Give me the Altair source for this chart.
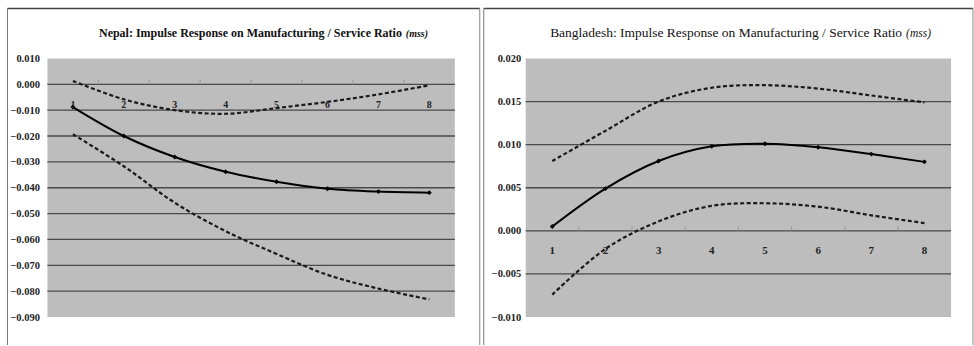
import altair as alt
import pandas as pd

periods = [1, 2, 3, 4, 5, 6, 7, 8]

nepal_response = [-0.0088, -0.0200, -0.0281, -0.0338, -0.0377, -0.0404, -0.0415, -0.0419]
nepal_upper = [0.0013, -0.0058, -0.0100, -0.0114, -0.0092, -0.0068, -0.0039, -0.0004]
nepal_lower = [-0.0193, -0.0317, -0.0458, -0.0568, -0.0656, -0.0737, -0.0790, -0.0832]

bd_response = [0.0005, 0.0049, 0.0081, 0.0098, 0.0101, 0.0097, 0.0089, 0.0080]
bd_upper = [0.0081, 0.0116, 0.0150, 0.0166, 0.0169, 0.0165, 0.0157, 0.0149]
bd_lower = [-0.0074, -0.0021, 0.0011, 0.0029, 0.0032, 0.0028, 0.0018, 0.0009]

nepal_ticks = [0.01, 0.0, -0.01, -0.02, -0.03, -0.04, -0.05, -0.06, -0.07, -0.08, -0.09]
nepal_grid = [0.0, -0.01, -0.02, -0.03, -0.04, -0.05, -0.06, -0.07, -0.08]
bd_ticks = [0.02, 0.015, 0.01, 0.005, 0.0, -0.005, -0.01]
bd_grid = [0.015, 0.01, 0.005, 0.0, -0.005]
boundaries = [1.5, 2.5, 3.5, 4.5, 5.5, 6.5, 7.5]

nepal_title = "Nepal: Impulse  Response on Manufacturing  / Service Ratio"
bd_title = "Bangladesh:  Impulse Response on Manufacturing  / Service Ratio"
title_suffix = "(mss)"

FONT = "Times New Roman, Liberation Serif, serif"


def panel(resp, upper, lower, ticks, grid, width, height, title_main, title_x,
          title_size, title_weight, label_pad, xlab_dy, xlab_size, frame):
    ydom = [min(ticks), max(ticks)]
    xs = alt.Scale(domain=[0.5, 8.5], nice=False, zero=False)
    ys = alt.Scale(domain=ydom, nice=False, zero=False)
    yax = alt.Axis(values=ticks, format=".3f", domain=False, ticks=False, grid=False, title=None,
                   labelFont=FONT, labelFontSize=10.5, labelFontWeight="bold", labelColor="#222",
                   labelPadding=label_pad)
    df = pd.DataFrame({"period": periods, "resp": resp, "upper": upper, "lower": lower})

    def Y(f):
        return alt.Y(f, scale=ys, axis=yax)

    def X(f):
        return alt.X(f, scale=xs, axis=None)

    gridlayer = alt.Chart(pd.DataFrame({"g": grid})).mark_rule(
        color="#4a4a4a", strokeWidth=1.3
    ).encode(y=Y("g:Q"), x=alt.value(0), x2=alt.value(width))
    tickdf = pd.DataFrame({"b": boundaries, "z": [0.0] * len(boundaries)})
    tk = alt.Chart(tickdf).mark_tick(orient="vertical", size=5, thickness=1, color="#888", yOffset=-2).encode(
        x=X("b:Q"), y=Y("z:Q"))

    base = alt.Chart(df)
    up = base.mark_line(color="#1a1a1a", strokeWidth=2.2, strokeDash=[4, 2.5], interpolate="catmull-rom").encode(
        x=X("period:Q"), y=Y("upper:Q"))
    lo = base.mark_line(color="#1a1a1a", strokeWidth=2.2, strokeDash=[4, 2.5], interpolate="catmull-rom").encode(
        x=X("period:Q"), y=Y("lower:Q"))
    mid = base.mark_line(color="#000", strokeWidth=2, interpolate="catmull-rom").encode(
        x=X("period:Q"), y=Y("resp:Q"))
    pts = base.mark_point(shape="diamond", filled=True, size=24, color="#000", opacity=1).encode(
        x=X("period:Q"), y=Y("resp:Q"))

    labdf = pd.DataFrame({"period": periods, "z": [0.0] * 8, "lab": [str(p) for p in periods]})
    labs = alt.Chart(labdf).mark_text(font=FONT, fontSize=xlab_size, fontWeight="bold", color="#222",
                                      dy=xlab_dy, baseline="middle").encode(
        x=X("period:Q"), y=Y("z:Q"), text="lab:N")

    one = alt.Data(values=[{"a": 1}])
    t1 = alt.Chart(one).mark_text(text=title_main, font=FONT, fontSize=title_size, fontWeight=title_weight,
                                  align="right", baseline="middle", color="#111").encode(
        x=alt.value(title_x), y=alt.value(-25))
    t2 = alt.Chart(one).mark_text(text=title_suffix, font=FONT, fontSize=title_size - 2, fontStyle="italic",
                                  fontWeight=title_weight, align="left", baseline="middle", color="#111").encode(
        x=alt.value(title_x + 4), y=alt.value(-24))

    fl, fr, ft, fb = frame
    rules = [
        alt.Chart(one).mark_rule(color="#444", strokeWidth=1.5).encode(
            x=alt.value(fl), x2=alt.value(fr), y=alt.value(ft)),
        alt.Chart(one).mark_rule(color="#777", strokeWidth=1).encode(
            x=alt.value(fl), y=alt.value(ft), y2=alt.value(fb)),
    ]
    if fr < width + 30:
        rules.append(alt.Chart(one).mark_rule(color="#888", strokeWidth=1).encode(
            x=alt.value(fr), y=alt.value(ft), y2=alt.value(fb)))

    return alt.layer(gridlayer, tk, up, lo, mid, pts, labs, t1, t2, *rules).properties(
        width=width, height=height)


left = panel(nepal_response, nepal_upper, nepal_lower, nepal_ticks, nepal_grid,
             408, 259, nepal_title, 355, 12, "bold", 8, 21, 10, (-40, 433, -50, 287))
right = panel(bd_response, bd_upper, bd_lower, bd_ticks, bd_grid,
              426, 259, bd_title, 377, 13.5, "normal", 5, 20, 11, (-42, 448, -50, 287))

chart = alt.hconcat(left, right, spacing=2).properties(
    padding={"left": 6.5, "top": 7.25, "right": 0, "bottom": 0},
    background="white",
).configure_view(fill="#bdbdbd", stroke=None)

chart.save("out.html", embed_options={"renderer": "svg", "actions": False})
